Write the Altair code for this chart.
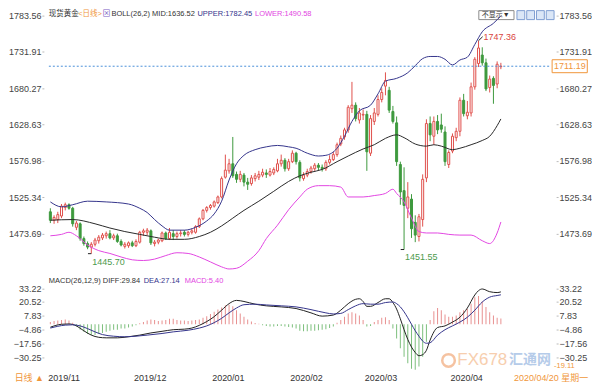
import altair as alt
import pandas as pd

FONT = "Liberation Sans, Noto Sans CJK SC"

# ---------------- data ----------------
opens = [1505, 1493, 1494, 1499, 1511, 1515, 1510, 1483, 1488, 1467,
         1460, 1455, 1459, 1464, 1468, 1471, 1474, 1468, 1471, 1463,
         1456, 1457, 1461, 1457, 1462, 1476, 1476, 1478, 1460, 1462,
         1464, 1475, 1467, 1474, 1470, 1474, 1476, 1473, 1476, 1476,
         1484, 1495, 1507, 1511, 1513, 1518, 1526, 1554, 1563, 1573,
         1558, 1551, 1557, 1547, 1545, 1552, 1554, 1557, 1560, 1557,
         1560, 1563, 1573, 1578, 1566, 1576, 1588, 1575, 1552, 1557,
         1562, 1566, 1571, 1568, 1566, 1575, 1579, 1586, 1601, 1611,
         1621, 1651, 1656, 1635, 1642, 1643, 1588, 1633, 1643, 1664,
         1683, 1677, 1647, 1631, 1572, 1535, 1510, 1523, 1490, 1470,
         1494, 1553, 1630, 1612, 1633, 1628, 1618, 1572, 1591, 1610,
         1619, 1663, 1641, 1645, 1682, 1715, 1727, 1716, 1681, 1694,
         1686, 1710.5]
highs = [1510, 1500, 1505, 1516, 1518, 1517, 1512, 1492, 1490, 1470,
         1463, 1462, 1468, 1472, 1475, 1477, 1479, 1474, 1474, 1466,
         1462, 1463, 1464, 1466, 1478, 1481, 1482, 1480, 1465, 1467,
         1477, 1477, 1482, 1479, 1477, 1479, 1479, 1478, 1481, 1486,
         1497, 1509, 1513, 1516, 1521, 1528, 1555, 1586, 1580, 1611,
         1562, 1563, 1560, 1553, 1557, 1560, 1563, 1566, 1565, 1567,
         1568, 1580, 1586, 1581, 1580, 1592, 1590, 1578, 1561, 1566,
         1570, 1574, 1574, 1572, 1578, 1585, 1590, 1603, 1613, 1624,
         1656, 1689, 1660, 1652, 1650, 1648, 1642, 1652, 1670, 1680,
         1702.5, 1682, 1655, 1640, 1576, 1568, 1547, 1530, 1500, 1502,
         1558, 1636, 1640, 1640, 1642, 1644, 1626, 1592, 1616, 1624,
         1667, 1672, 1662, 1688, 1724, 1747.36, 1738, 1722, 1698, 1697,
         1718, 1716]
lows = [1489, 1488, 1489, 1496, 1507, 1508, 1484, 1479, 1464, 1457,
        1452, 1445.70, 1456, 1460, 1465, 1467, 1466, 1465, 1461, 1456,
        1453, 1454, 1455, 1455, 1460, 1471, 1472, 1458, 1456, 1459,
        1462, 1465, 1465, 1465, 1467, 1470, 1470, 1470, 1473, 1474,
        1482, 1493, 1504, 1508, 1511, 1516, 1524, 1552, 1559, 1553,
        1546, 1547, 1541, 1536, 1542, 1548, 1550, 1554, 1553, 1555,
        1557, 1561, 1569, 1562, 1563, 1574, 1572, 1548, 1549, 1554,
        1559, 1563, 1564, 1562, 1563, 1572, 1577, 1583, 1598, 1607,
        1617, 1645, 1633, 1630, 1635, 1563, 1584, 1628, 1640, 1660,
        1670, 1645, 1630, 1570, 1515, 1451.55, 1496, 1468, 1462, 1463,
        1484, 1547, 1605, 1600, 1615, 1617, 1570, 1567, 1588, 1605,
        1612, 1640, 1636, 1640, 1678, 1710, 1712, 1676, 1674, 1658,
        1680, 1707]
closes = [1493, 1497, 1501, 1513, 1515, 1510, 1488, 1489, 1467, 1460,
          1455, 1459, 1465, 1469, 1472, 1474, 1468, 1471, 1463, 1458,
          1459, 1461, 1457, 1463, 1476, 1478, 1479, 1461, 1462, 1465,
          1475, 1467, 1476, 1470, 1474, 1475, 1473, 1476, 1478, 1484,
          1495, 1507, 1511, 1514, 1519, 1526, 1552, 1564, 1573, 1556,
          1551, 1558, 1547, 1544, 1553, 1556, 1558, 1561, 1558, 1562,
          1565, 1573, 1578, 1566, 1576, 1588, 1576, 1553, 1557, 1562,
          1567, 1571, 1568, 1566, 1575, 1579, 1586, 1600, 1609, 1621,
          1653, 1656, 1637, 1645, 1643, 1590, 1637, 1645, 1664, 1674,
          1691, 1649, 1633, 1576, 1533, 1514, 1526, 1481, 1472, 1498,
          1551, 1630, 1614, 1633, 1621, 1622, 1576, 1589, 1612, 1619,
          1663, 1644, 1646, 1682, 1721, 1737, 1716, 1679, 1693, 1684,
          1714, 1711.19]

upper_i = [0, 3, 6, 10, 15, 21, 24, 26, 28, 30, 32, 36, 39, 42, 44, 46, 48, 50, 52, 55,
           58, 61, 64, 66, 69, 72, 74, 77, 79, 81, 83, 86, 88, 90, 93, 96, 98, 100, 102, 104,
           106, 108, 110, 112, 114, 116, 119, 121]
upper_v = [1519, 1512, 1515, 1520, 1519, 1516, 1510, 1504, 1494, 1485, 1479, 1479, 1483, 1492, 1502,
           1520, 1550, 1573, 1585, 1593, 1597, 1599, 1597, 1595, 1588, 1584, 1585, 1595, 1612, 1633,
           1648, 1656, 1672, 1690, 1694, 1702, 1712, 1722, 1725, 1725, 1721, 1713, 1720, 1724, 1742,
           1760, 1772, 1782.45]
mid_i = [0, 6, 12, 16, 20, 24, 28, 32, 36, 40, 43, 46, 49, 52, 56, 60, 64, 67, 70, 73,
         77, 80, 84, 87, 90, 93, 95, 98, 101, 103, 105, 108, 110, 113, 116, 118, 120, 121]
mid_v = [1493, 1494, 1488, 1482, 1477, 1473, 1469, 1466, 1466, 1470, 1476, 1485, 1496, 1507, 1520,
         1534, 1548, 1556, 1561, 1565, 1576, 1584, 1594, 1600, 1609, 1614, 1610, 1601, 1598, 1600,
         1598, 1593, 1595, 1600, 1606, 1612, 1627, 1636.52]
lower_i = [0, 3, 5, 7, 10, 13, 16, 19, 22, 25, 28, 31, 34, 37, 40, 43, 46, 48, 50, 53,
           56, 58, 61, 64, 67, 69, 72, 75, 78, 80, 84, 87, 90, 92, 93, 95, 97, 99, 101, 104,
           107, 110, 113, 116, 118, 120, 121]
lower_v = [1471, 1473, 1476, 1471, 1458, 1450, 1446, 1441, 1437, 1436, 1438, 1443, 1447, 1446, 1441,
           1434, 1427, 1424, 1425, 1435, 1450, 1467, 1486, 1508, 1526, 1537, 1542, 1542, 1540, 1526,
           1526, 1528, 1531, 1537, 1531, 1519, 1496, 1477, 1475, 1475, 1473, 1472, 1472, 1464, 1460,
           1475, 1490.58]

diff_i = [0, 3, 5, 7, 9, 11, 13, 15, 18, 21, 24, 27, 30, 33, 36, 38, 40, 42, 44, 46,
          48, 50, 52, 55, 58, 62, 66, 70, 73, 76, 78, 80, 82, 83, 84, 85, 86, 88, 90, 91,
          92, 93, 94, 95, 96, 97, 98, 99, 100, 101, 102, 104, 106, 108, 110, 112, 114, 115, 116, 118,
          120, 121]
diff_v = [-2.7, 0, 0.3, -1.5, -6, -10, -12, -12.5, -12.5, -11.5, -10, -8, -6.5, -5, -4.5, -3.5, -1, 2.5, 7, 13,
          19, 22, 21, 18.5, 17, 16, 14.5, 10.5, 7.5, 8.5, 13, 19, 23, 23.5, 21, 16.5, 16.5, 20, 23.5, 23.5,
          20, 14, 5, -5, -14, -21, -26, -29, -28, -24, -14.5, -3, -1.5, 2, 6.5, 15, 27, 31, 32.5, 30,
          29.2, 29.84]
dea_i = [0, 4, 6, 8, 10, 12, 14, 17, 20, 23, 26, 30, 33, 37, 40, 42, 44, 46, 48, 50,
         52, 55, 58, 62, 66, 70, 74, 76, 78, 80, 82, 84, 86, 88, 90, 92, 93, 94, 95, 96,
         97, 98, 99, 100, 101, 102, 104, 106, 108, 110, 112, 114, 116, 118, 120, 121]
dea_v = [-3.5, -0.8, -0.5, -1.5, -4, -7, -9.5, -11, -11.5, -11, -10, -8.5, -7, -5.5, -3.5, -1.5, 1.5, 5.5, 10.5, 15,
         18, 18.5, 17.8, 17, 16, 13.5, 10.5, 9.5, 10, 13.5, 17, 19, 18.5, 18.5, 20, 20.5, 19, 16, 11.5, 6,
         0, -6, -11, -15.5, -17.5, -17, -10, -5, -1.5, 2, 6.5, 13, 20.5, 25, 26.5, 27.14]
macd_hist = [2, 3, 3.5, 4, 4.5, 3.5, 1.5,
             -2, -5, -7, -9, -10, -10, -9, -8, -7, -6, -5, -5, -4, -4, -3, -2, -1,
             1, 2, 3.5, 4.5, 4, 3, 3.5, 4, 5, 5,
             4, 3.5, 3.5, 3, 3.5, 4, 4.5,
             6, 7.5, 9.5, 11.5, 13.5, 15.5, 17.5, 18, 16.5,
             13, 10, 7, 4.5, 2.5, 1.2, 0.5,
             -1, -1.5, -2, -2, -1.5, -1.5, -2, -2.5, -3, -4,
             -6, -6.5, -6.5, -6, -6, -5.5, -5, -4.5, -3.5, -2,
             1.5, 4, 7, 10, 11, 10, 8, 4,
             -2, -1.5,
             2, 4, 6, 6.5, 4,
             -4, -13, -22, -30, -36, -41, -42, -39, -30, -16,
             4, 12, 15, 13, 9, 7, 7, 8, 11, 13, 14, 19, 25, 26, 21, 16, 11, 8, 6, 5.4]

month_idx = [0, 23, 44, 65, 85, 108]
month_lbl = ["2019/11", "2019/12", "2020/01", "2020/02", "2020/03", "2020/04"]
price_ticks = [1473.69, 1525.34, 1576.98, 1628.63, 1680.27, 1731.91, 1783.56]
macd_ticks = [33.22, 20.52, 7.83, -4.86, -17.56, -30.25]

extreme_i = [11, 95, 115]
extreme_p = [1445.70, 1451.55, 1747.36]

title_boll = ["现货黄金", "<日线>", "⊠", "BOLL(26,2) MID:1636.52", "UPPER:1782.45", "LOWER:1490.58"]
title_macd = ["MACD(26,12,9) DIFF:29.84", "DEA:27.14", "MACD:5.40"]
date_label = "2020/04/20 星期一"
period_label = "日线 ▲"
macd_marker = "-19.11"
toolbar_label = "不显示▼"
watermark = ["FX678", "汇通网"]

# ---------------- styling / layout ----------------
RED = "#e0504c"
GREEN = "#3e9a3e"
NAVY = "#35358c"
MAG = "#e246e2"
ORANGE = "#f0963a"
DASH = "#4a90d9"
TXT = "#444444"
HRED = "#e89090"
HGREEN = "#7cbf7c"

W, H1, H2 = 514, 259, 94
X0, X1 = -0.4, 134.5
P0, P1 = 1421.5, 1787.1
M0, M1 = -42.5, 43.8
XS = alt.Scale(domain=[X0, X1], nice=False, zero=False)
PS = alt.Scale(domain=[P0, P1], nice=False, zero=False)
MS = alt.Scale(domain=[M0, M1], nice=False, zero=False)
X = alt.X("i:Q", scale=XS, axis=None)


def px_x(px):
    return X0 + px * (X1 - X0) / W


def px_p(py):
    return P1 - py * (P1 - P0) / H1


def px_m(py):
    return M1 - py * (M1 - M0) / H2


def yaxis(orient, values):
    return alt.Axis(orient=orient, values=values, format=".2f", labelFontSize=9, labelColor=TXT,
                    labelFont=FONT, tickSize=2, tickColor="#bbbbbb", labelPadding=1, domain=False,
                    grid=False, labelOverlap=False, title=None)


def text_at(text, px, py, yscale, conv, color, size=7.5, align="left", opacity=1.0, weight="normal"):
    df = pd.DataFrame({"x": [px_x(px)], "y": [conv(py)], "t": [text]})
    return alt.Chart(df).mark_text(
        align=align, baseline="middle", fontSize=size, color=color, font=FONT,
        opacity=opacity, fontWeight=weight
    ).encode(x=alt.X("x:Q", scale=XS, axis=None), y=alt.Y("y:Q", scale=yscale, axis=None), text="t:N")


def rect_at(x1, x2, y1, y2, yscale, conv, fill, stroke):
    df = pd.DataFrame({"x": [px_x(x1)], "x2": [px_x(x2)], "y": [conv(y1)], "y2": [conv(y2)]})
    return alt.Chart(df).mark_rect(fill=fill, stroke=stroke, strokeWidth=1).encode(
        x=alt.X("x:Q", scale=XS, axis=None), x2="x2:Q",
        y=alt.Y("y:Q", scale=yscale, axis=None), y2="y2:Q")


def pline(idx, vals, color, scale):
    return alt.Chart(pd.DataFrame({"i": idx, "v": vals})).mark_line(
        color=color, strokeWidth=1, interpolate="monotone").encode(
        x=X, y=alt.Y("v:Q", scale=scale, axis=None))


def axis_layer(ticks, scale, orient, xaxis=None):
    df = pd.DataFrame({"v": ticks, "i": [X0] * len(ticks)})
    xenc = alt.X("i:Q", scale=XS, axis=xaxis) if xaxis is not None else X
    return alt.Chart(df).mark_point(opacity=0).encode(
        x=xenc, y=alt.Y("v:Q", scale=scale, axis=yaxis(orient, ticks)))


# ---------------- price panel ----------------
cd = pd.DataFrame({"i": list(range(len(opens))), "o": opens, "h": highs, "l": lows, "c": closes})
cd["top"] = cd[["o", "c"]].max(axis=1)
cd["bot"] = cd[["o", "c"]].min(axis=1)
up = cd[cd["c"] >= cd["o"]].reset_index(drop=True)
dn = cd[cd["c"] < cd["o"]].reset_index(drop=True)

wick_up = alt.Chart(up).mark_rule(strokeWidth=1, color=RED).encode(
    x=X, y=alt.Y("l:Q", scale=PS, axis=None), y2="h:Q")
wick_dn = alt.Chart(dn).mark_rule(strokeWidth=1, color=GREEN).encode(
    x=X, y=alt.Y("l:Q", scale=PS, axis=None), y2="h:Q")
body_up = alt.Chart(up).mark_bar(size=2, strokeWidth=1, fill="#ffffff", stroke=RED).encode(
    x=X, y=alt.Y("bot:Q", scale=PS, axis=None), y2="top:Q")
body_dn = alt.Chart(dn).mark_bar(size=2, strokeWidth=1, fill=GREEN, stroke=GREEN).encode(
    x=X, y=alt.Y("bot:Q", scale=PS, axis=None), y2="top:Q")

last = closes[-1]
py_last = (P1 - last) / (P1 - P0) * H1
lp = pd.DataFrame({"p": [last], "a": [X0], "b": [X1], "xt": [px_x(W + 3)]})
dash = alt.Chart(lp).mark_rule(color=DASH, strokeDash=[2, 2], strokeWidth=1).encode(
    y=alt.Y("p:Q", scale=PS, axis=None), x=alt.X("a:Q", scale=XS, axis=None), x2="b:Q")
tag_box = rect_at(W + 1, W + 37, py_last - 6.5, py_last + 6.5, PS, px_p, "#ffffff", ORANGE)
tag_txt = alt.Chart(lp).mark_text(align="left", baseline="middle", fontSize=9, color=ORANGE,
                                  font=FONT).encode(
    y=alt.Y("p:Q", scale=PS, axis=None), x=alt.X("xt:Q", scale=XS, axis=None),
    text=alt.Text("p:Q", format=".2f"))

ex = pd.DataFrame({"i": extreme_i, "p": extreme_p})
ex["t"] = [f"{p:.2f}" for p in extreme_p]
lows_ex = ex.iloc[:2].reset_index(drop=True)
high_ex = ex.iloc[2:].reset_index(drop=True)
pp = (P1 - P0) / H1
low_tick = lows_ex.assign(i2=lows_ex["i"] - 0.9)
high_tick = high_ex.assign(i2=high_ex["i"] + 1.1, p2=high_ex["p"] + 4 * pp)
low_mark = alt.Chart(low_tick).mark_rule(color="#222222", strokeWidth=1).encode(
    x=X, x2="i2:Q", y=alt.Y("p:Q", scale=PS, axis=None))
high_mark = alt.Chart(high_tick).mark_rule(color="#222222", strokeWidth=1).encode(
    x=X, x2="i2:Q", y=alt.Y("p:Q", scale=PS, axis=None), y2="p2:Q")
low_txt = alt.Chart(lows_ex).mark_text(
    align="left", baseline="middle", dx=1, dy=8, fontSize=9, color="#4c9a4c", font=FONT).encode(
    x=X, y=alt.Y("p:Q", scale=PS, axis=None), text="t:N")
high_txt = alt.Chart(high_ex).mark_text(
    align="left", baseline="middle", dx=5, dy=-4, fontSize=9, color="#d9433e", font=FONT).encode(
    x=X, y=alt.Y("p:Q", scale=PS, axis=None), text="t:N")

toolbar = [rect_at(440, 476, -2, 7, PS, px_p, "#ffffff", "#8c8c8c"),
           text_at(toolbar_label, 443, 2.5, PS, px_p, "#333333", size=7)]
for k in range(4):
    toolbar.append(rect_at(479 + k * 10, 487 + k * 10, -2, 7, PS, px_p, "#dbe7f7", "#7f9fd2"))

titles_p = [
    text_at(title_boll[0], 0, 1, PS, px_p, "#333333"),
    text_at(title_boll[1], 30, 1, PS, px_p, ORANGE),
    text_at(title_boll[2], 55, 1, PS, px_p, "#7b5cc4", size=8),
    text_at(title_boll[3], 64, 1, PS, px_p, "#333333"),
    text_at(title_boll[4], 152, 1, PS, px_p, NAVY),
    text_at(title_boll[5], 211, 1, PS, px_p, MAG),
]

price_main = alt.layer(
    *toolbar, wick_up, wick_dn, body_up, body_dn,
    pline(upper_i, upper_v, NAVY, PS), pline(mid_i, mid_v, "#2a2a2a", PS), pline(lower_i, lower_v, MAG, PS),
    dash, tag_box, tag_txt, low_mark, high_mark, low_txt, high_txt, *titles_p
)
price = alt.layer(
    price_main, axis_layer(price_ticks, PS, "left"), axis_layer(price_ticks, PS, "right")
).resolve_scale(y="independent").properties(width=W, height=H1)

# ---------------- MACD panel ----------------
x_axis = alt.Axis(labels=False, ticks=False, grid=False, domainColor="#cccccc", title=None)

hd = pd.DataFrame({"i": list(range(len(macd_hist))), "m": macd_hist, "z": [0] * len(macd_hist)})
hpos = hd[hd["m"] >= 0].reset_index(drop=True)
hneg = hd[hd["m"] < 0].reset_index(drop=True)
hist_pos = alt.Chart(hpos).mark_bar(size=1, color=HRED).encode(
    x=X, y=alt.Y("m:Q", scale=MS, axis=None), y2="z:Q")
hist_neg = alt.Chart(hneg).mark_bar(size=1, color=HGREEN).encode(
    x=X, y=alt.Y("m:Q", scale=MS, axis=None), y2="z:Q")
diff_line = pline(diff_i, diff_v, "#222222", MS)
dea_line = pline(dea_i, dea_v, NAVY, MS)

mdf = pd.DataFrame({"i": month_idx, "t": month_lbl, "y": [px_m(H2 + 8)] * len(month_idx)})
month_txt = alt.Chart(mdf).mark_text(align="left", baseline="middle", dx=-2, fontSize=9,
                                     color="#333333", font=FONT).encode(
    x=X, y=alt.Y("y:Q", scale=MS, axis=None), text="t:N")

logo_df = pd.DataFrame({"x": [px_x(409)], "y": [px_m(84)]})
logo = alt.Chart(logo_df).mark_point(shape="circle", size=160, filled=False, stroke="#f3b48a",
                                     strokeWidth=2.5, opacity=0.8).encode(
    x=alt.X("x:Q", scale=XS, axis=None), y=alt.Y("y:Q", scale=MS, axis=None))

titles_m = [
    text_at(watermark[0], 418, 84, MS, px_m, "#f6c6a0", size=17, opacity=0.85),
    text_at(watermark[1], 471, 84, MS, px_m, "#a9c3e6", size=14, opacity=0.85, weight="bold"),
    text_at(title_macd[0], 0, 4, MS, px_m, "#333333"),
    text_at(title_macd[1], 97, 4, MS, px_m, NAVY),
    text_at(title_macd[2], 139, 4, MS, px_m, MAG),
    text_at(macd_marker, W + 3, 90, MS, px_m, ORANGE, size=7.5),
    text_at(date_label, 476, H2 + 8, MS, px_m, ORANGE, size=9),
    text_at(period_label, -35, H2 + 8, MS, px_m, ORANGE, size=9),
]

macd_main = alt.layer(logo, hist_pos, hist_neg, diff_line, dea_line, month_txt, *titles_m)
macd = alt.layer(
    macd_main, axis_layer(macd_ticks, MS, "left", xaxis=x_axis), axis_layer(macd_ticks, MS, "right")
).resolve_scale(y="independent").properties(width=W, height=H2)

chart = alt.vconcat(price, macd, spacing=4, padding=0).configure_view(strokeWidth=0)
chart.save("out.html", embed_options={"renderer": "svg", "actions": False})
